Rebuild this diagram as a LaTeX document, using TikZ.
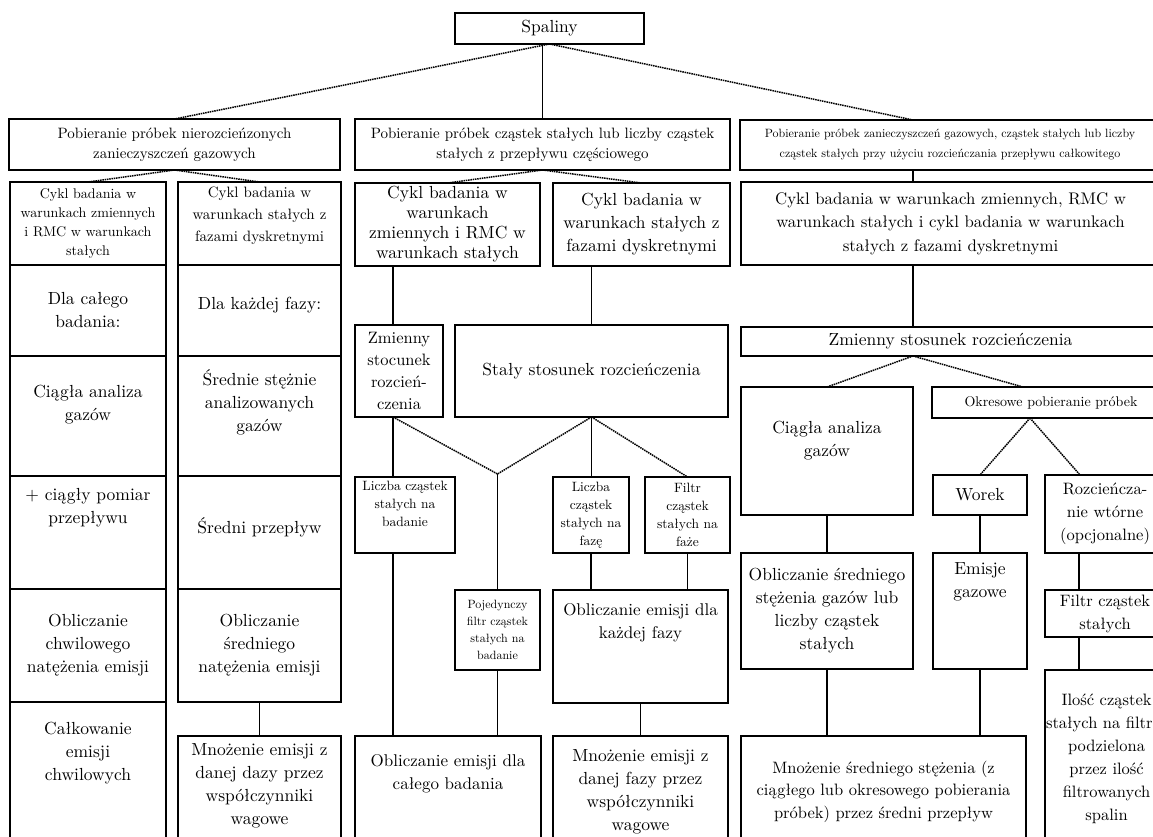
\documentclass[tikz,border=0pt]{standalone}
\usepackage{fontspec}
\setmainfont{lmroman10-regular.otf}

\begin{document}
\begin{tikzpicture}[x=1pt, y=-1pt,
		box/.style={draw, line width=1.6pt, anchor=north west, align=center, inner sep=1pt, outer sep=0pt},
		wh/.style 2 args={minimum width=#1, minimum height=#2},
		lift/.style={text depth=#1},
		txtbig/.style={font=\fontsize{17.5}{23}\selectfont},
		txtnar/.style={font=\fontsize{16.5}{23}\selectfont},
		txtmid/.style={font=\fontsize{15}{20}\selectfont},
		txtsm/.style={font=\fontsize{13.5}{18}\selectfont},
		txtxs/.style={font=\fontsize{12}{17}\selectfont},
		link/.style={line width=1.6pt},
		fork/.style={line width=1.5pt, dash pattern=on 1.5pt off 0.8pt}]
	\useasboundingbox (0,0) rectangle (1153,837);
	\fill[white] (0,0) rectangle (1153,837);
	\clip (0,0) rectangle (1153,837);

	\node[box, txtbig, wh={189}{31}] (spal) at (455,13) {Spaliny};
	\node[box, txtmid, wh={331}{51}] (pobA) at (9,119) {Pobieranie próbek nierozcieńzonych\\zanieczyszczeń gazowych};
	\node[box, txtmid, wh={375}{51}] (pobB) at (355,119) {Pobieranie próbek cząstek stałych lub liczby cząstek\\stałych z przepływu częściowego};
	\node[box, font=\fontsize{12}{20}\selectfont, wh={420}{50}] (pobC) at (740,120) {Pobieranie próbek zanieczyszczeń gazowych, cząstek stałych lub liczby\\cząstek stałych przy użyciu rozcieńczania przepływu całkowitego};

	% kolumna A
	\node[box, font=\fontsize{14}{19}\selectfont, wh={156}{83}] (a1) at (10,182) {Cykl badania w\\warunkach zmiennych\\i RMC w warunkach\\stałych};
	\node[box, txtbig, wh={156}{91}] (a2) at (10,265) {Dla całego\\badania:};
	\node[box, txtbig, wh={156}{120}, lift=26pt] (a3) at (10,356) {Ciągła analiza\\gazów};
	\node[box, txtbig, wh={156}{113}, lift=54pt] (a4) at (10,476) {+ ciągły pomiar\\przepływu};
	\node[box, txtbig, wh={156}{113}] (a5) at (10,589) {Obliczanie\\chwilowego\\natężenia emisji};
	\node[box, txtbig, wh={156}{145}, lift=46pt] (a6) at (10,702) {Całkowanie\\emisji\\chwilowych};

	% kolumna B
	\node[box, font=\fontsize{15}{22}\selectfont, wh={163}{83}, lift=18pt] (b1) at (178,182) {Cykl badania w\\warunkach stałych z\\fazami dyskretnymi};
	\node[box, txtbig, wh={163}{91}, lift=14pt] (b2) at (178,265) {Dla każdej fazy:};
	\node[box, txtbig, wh={163}{120}, lift=30pt] (b3) at (178,356) {Średnie stężnie\\analizowanych\\gazów};
	\node[box, txtbig, wh={163}{113}, lift=14pt] (b4) at (178,476) {Średni przepływ};
	\node[box, txtbig, wh={163}{113}] (b5) at (178,589) {Obliczanie\\średniego\\natężenia emisji};
	\node[box, txtbig, wh={163}{111}, lift=14pt] (b6) at (178,736) {Mnożenie emisji z\\danej dazy przez\\współczynniki\\wagowe};

	% kolumna C
	\node[box, font=\fontsize{17.5}{20}\selectfont, inner sep=0pt, wh={185}{83}] (c1) at (355,183) {Cykl badania w\\warunkach\\zmiennych i RMC w\\warunkach stałych};
	\node[box, txtbig, wh={177}{83}] (c2) at (553,183) {Cykl badania w\\warunkach stałych z\\fazami dyskretnymi};
	\node[box, font=\fontsize{16.5}{22}\selectfont, inner sep=0pt, wh={88}{92}] (zm) at (355,325) {Zmienny\\stocunek\\rozcień-\\czenia};
	\node[box, txtbig, wh={273}{92}] (st) at (455,325) {Stały stosunek rozcieńczenia};
	\node[box, txtsm, wh={100}{76}, lift=22pt] (lb) at (355,477) {Liczba cząstek\\stałych na\\badanie};
	\node[box, txtsm, wh={76}{76}] (lf) at (553,477) {Liczba\\cząstek\\stałych na\\fazę};
	\node[box, txtsm, wh={85}{76}] (fi) at (645,477) {Filtr\\cząstek\\stałych na\\faże};
	\node[box, txtxs, wh={85}{80}] (pf) at (455,590) {Pojedynczy\\filtr cząstek\\stałych na\\badanie};
	\node[box, font=\fontsize{17}{23}\selectfont, wh={175}{113}, lift=50pt] (oc) at (553,590) {Obliczanie emisji dla\\każdej fazy};
	\node[box, font=\fontsize{17}{23}\selectfont, wh={186}{111}, lift=39pt] (ob) at (355,736) {Obliczanie emisji dla\\całego badania};
	\node[box, txtbig, wh={175}{111}] (mf) at (553,736) {Mnożenie emisji z\\danej fazy przez\\współczynniki\\wagowe};
	\coordinate (meet) at (497.5,474);

	% kolumna D
	\node[box, font=\fontsize{16.8}{23.5}\selectfont, wh={419}{83}] (cyC) at (741,182) {Cykl badania w warunkach zmiennych, RMC w\\warunkach stałych i cykl badania w warunkach\\stałych z fazami dyskretnymi};
	\node[box, txtbig, wh={419}{29}] (zmC) at (741,327) {Zmienny stosunek rozcieńczenia};
	\node[box, txtbig, wh={172}{128}, lift=24pt] (cga) at (741,387) {Ciągła analiza\\gazów};
	\node[box, font=\fontsize{14}{18}\selectfont, wh={238}{31}] (okr) at (932,387) {Okresowe pobieranie próbek};
	\node[box, txtbig, wh={94}{40}] (worek) at (933,475) {Worek};
	\node[box, txtnar, wh={120}{78}] (rozc) at (1045,475) {Rozcieńcza-\\nie wtórne\\(opcjonalne)};
	\node[box, txtbig, wh={172}{116}] (obs) at (741,553) {Obliczanie średniego\\stężenia gazów lub\\liczby cząstek\\stałych};
	\node[box, txtbig, wh={94}{116}, lift=62pt] (em) at (933,553) {Emisje\\gazowe};
	\node[box, txtnar, wh={120}{47}] (fc) at (1045,590) {Filtr cząstek\\stałych};
	\node[box, txtnar, wh={120}{177}] (il) at (1045,670) {Ilość cząstek\\stałych na filtrze\\podzielona\\przez ilość\\filtrowanych\\spalin};
	\node[box, font=\fontsize{16.5}{22.5}\selectfont, wh={285}{111}] (mns) at (741,736) {Mnożenie średniego stężenia (z\\ciągłego lub okresowego pobierania\\próbek) przez średni przepływ};

	\draw[fork] (spal.south) -- (pobA.north);
	\draw[fork] (spal.south) -- (cga.east |- pobC.north);
	\draw[link] (pobB.north) -- (pobB.north |- spal.south);
	\draw[fork] (pobA.south) -- (a1.north);
	\draw[fork] (pobA.south) -- (b1.north);
	\draw[fork] (pobB.south) -- (c1.north);
	\draw[fork] (pobB.south) -- (c2.north);
	\draw[link] (b5.south) -- (b6.north);

	\draw[link] ([xshift=-6pt]zm.north) -- ([xshift=-6pt]zm.north |- c1.south);
	\draw[link] (st.north) -- (st.north |- c2.south);
	\draw[link] ([xshift=-6pt]zm.south) -- ([xshift=-6pt]zm.south |- lb.north);
	\draw[fork] ([xshift=-6pt]zm.south) -- (meet);
	\draw[fork] (st.south) -- (meet);
	\draw[fork] (st.south) -- (fi.north);
	\draw[link] (st.south) -- (st.south |- lf.north);
	\draw[link] (meet) -- (pf.north);
	\draw[link] ([xshift=-12pt]lb.south) -- ([xshift=-12pt]lb.south |- ob.north);
	\draw[link] (pf.south) -- (pf.south |- ob.north);
	\draw[link] (lf.south) -- (lf.south |- oc.north);
	\draw[link] (fi.south) -- (fi.south |- oc.north);
	\draw[link] (oc.south) -- (oc.south |- mf.north);

	\draw[link] (cga.east |- pobC.south) -- (cga.east |- cyC.north);
	\draw[link] (cga.east |- cyC.south) -- (cga.east |- zmC.north);
	\draw[fork] (cga.east |- zmC.south) -- (cga.north);
	\draw[fork] (cga.east |- zmC.south) -- ([xshift=91pt]okr.north west);
	\draw[fork] ([xshift=98pt]okr.south west) -- (worek.north);
	\draw[fork] ([xshift=98pt]okr.south west) -- ([xshift=35pt]rozc.north west);
	\draw[link] (cga.south) -- (obs.north);
	\draw[link] (worek.south) -- (em.north);
	\draw[link] (obs.south) -- (obs.south |- mns.north);
	\draw[link] (em.south) -- (em.south |- mns.north);
	\draw[link] ([xshift=34pt]rozc.south west) -- ([xshift=34pt]fc.north west);
	\draw[link] ([xshift=34pt]fc.south west) -- ([xshift=34pt]il.north west);
\end{tikzpicture}
\end{document}
